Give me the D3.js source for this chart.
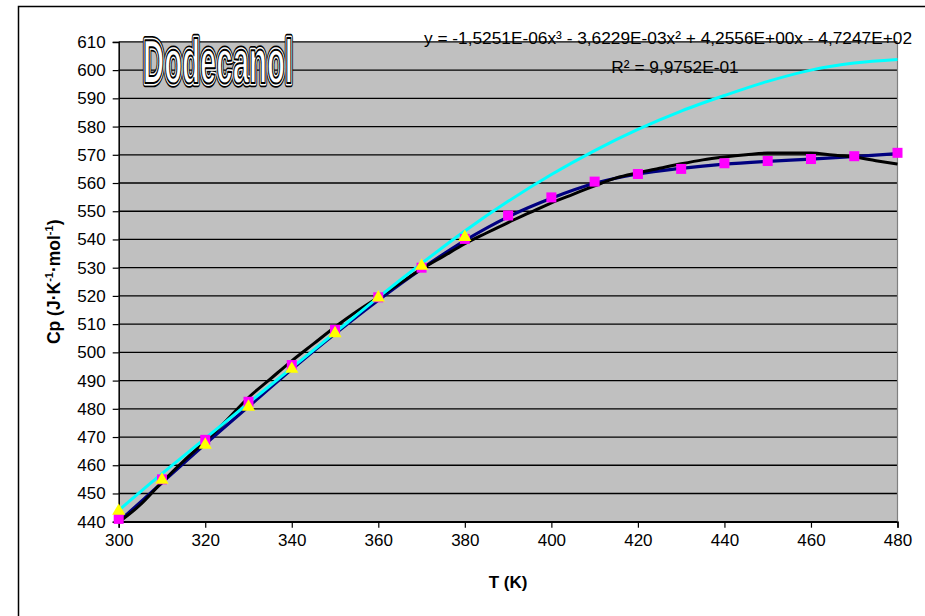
<!DOCTYPE html>
<html>
<head>
<meta charset="utf-8">
<script src="https://cdn.jsdelivr.net/npm/d3@7"></script>
<style>
  html, body { margin: 0; padding: 0; background: #fff; }
  svg { display: block; font-family: "Liberation Sans", Arial, sans-serif; }
  .title { text-rendering: geometricPrecision; -webkit-font-smoothing: antialiased; }
</style>
</head>
<body>
<svg id="chart" width="925" height="616"></svg>
<script>
// Temperature grid (K)
const tempsFull = [300, 310, 320, 330, 340, 350, 360, 370, 380, 390, 400, 410, 420, 430, 440, 450, 460, 470, 480];
const tempsShort = [300, 310, 320, 330, 340, 350, 360, 370, 380];

// Cp values, J·K-1·mol-1
const cpSquares = [441, 455, 469, 482.5, 495.5, 508, 519.5, 530, 540.2, 548.5, 554.9, 560.5, 563.2, 565, 567, 567.8, 568.5, 569.5, 570.7];
const cpNavy = [440, 453.8, 467.5, 480.8, 494, 506.6, 518.5, 529.6, 539.6, 548, 554.6, 559.9, 563.2, 565.2, 566.7, 567.7, 568.5, 569.4, 570.4];
const cpTriangles = [443.8, 454.8, 467.2, 480.7, 494.1, 506.7, 519.4, 530.6, 540.8];
const cpCyan = [444, 457, 469.5, 482, 494.5, 507, 519.5, 531.5, 543, 553.5, 563, 571.5, 579, 585.5, 591, 596, 600, 602.5, 603.8];

// Measured curve, 5 K steps
const tempsMeasured = [300, 305, 310, 315, 320, 325, 330, 335, 340, 345, 350, 355, 360, 365, 370, 375, 380, 385, 390, 395, 400, 405, 410, 415, 420, 425, 430, 435, 440, 445, 450, 455, 460, 465, 470, 475, 480];
const cpMeasured = [439.8, 446, 454, 461.5, 468.5, 476, 484, 490.5, 497, 503, 509, 514.5, 519.5, 524.5, 529.5, 534, 538.5, 542.3, 546, 549.5, 553, 556, 559, 561.8, 563.6, 565.2, 566.8, 568.2, 569.2, 570, 570.6, 570.6, 570.6, 569.9, 569.2, 567.9, 566.7];

// Axis ticks
const xTicks = [300, 320, 340, 360, 380, 400, 420, 440, 460, 480];
const yTicks = [440, 450, 460, 470, 480, 490, 500, 510, 520, 530, 540, 550, 560, 570, 580, 590, 600, 610];

const svg = d3.select("#chart");
const plotLeft = 118.7, plotRight = 897.5, plotTop = 41.9, plotBottom = 521.7;

const x = d3.scaleLinear().domain([300, 480]).range([plotLeft, plotRight]);
const y = d3.scaleLinear().domain([440, 610]).range([plotBottom, plotTop]);

// Outer chart frame
svg.append("rect")
  .attr("x", 18.5).attr("y", 6.5).attr("width", 1000).attr("height", 700)
  .attr("fill", "#fff").attr("stroke", "#000").attr("stroke-width", 1.5);

// Plot area
svg.append("rect")
  .attr("x", plotLeft).attr("y", plotTop).attr("width", plotRight - plotLeft).attr("height", plotBottom - plotTop)
  .attr("fill", "#c0c0c0");

// Horizontal gridlines
svg.append("g").selectAll("line").data(yTicks).join("line")
  .attr("x1", plotLeft).attr("x2", plotRight)
  .attr("y1", d => y(d)).attr("y2", d => y(d))
  .attr("stroke", "#000").attr("stroke-width", 1.3);

// Right border of plot
svg.append("line")
  .attr("x1", plotRight).attr("x2", plotRight).attr("y1", plotTop).attr("y2", plotBottom)
  .attr("stroke", "#808080").attr("stroke-width", 1.2);

// Axes
const xAxis = d3.axisBottom(x).tickValues(xTicks).tickSize(6).tickPadding(6).tickFormat(d3.format("d"));
const yAxis = d3.axisLeft(y).tickValues(yTicks).tickSize(6).tickPadding(7).tickFormat(d3.format("d"));

const gx = svg.append("g").attr("transform", `translate(0,${plotBottom})`).call(xAxis);
const gy = svg.append("g").attr("transform", `translate(${plotLeft},0)`).call(yAxis);
[gx, gy].forEach(g => {
  g.select(".domain").attr("stroke", "#000").attr("stroke-width", 1.5);
  g.selectAll(".tick line").attr("stroke", "#000").attr("stroke-width", 1.2);
  g.selectAll(".tick text").attr("fill", "#000")
    .style("font-family", "'Liberation Sans', Arial, sans-serif").style("font-size", "17px");
});

// Clip to plot area
svg.append("defs").append("clipPath").attr("id", "plotclip")
  .append("rect").attr("x", plotLeft).attr("y", plotTop - 2).attr("width", plotRight - plotLeft + 8).attr("height", plotBottom - plotTop + 6);

const plot = svg.append("g").attr("clip-path", "url(#plotclip)");

const smooth = d3.line().x(d => x(d[0])).y(d => y(d[1])).curve(d3.curveCatmullRom.alpha(0.5));
const straight = d3.line().x(d => x(d[0])).y(d => y(d[1])).curve(d3.curveMonotoneX);

// Navy fitted curve
plot.append("path")
  .datum(tempsFull.map((t, i) => [t, cpNavy[i]]))
  .attr("d", smooth).attr("fill", "none").attr("stroke", "#000080").attr("stroke-width", 3.2);

// Magenta squares
svg.append("g").selectAll("rect").data(tempsFull.map((t, i) => [t, cpSquares[i]])).join("rect")
  .attr("x", d => x(d[0]) - 5).attr("y", d => y(d[1]) - 5)
  .attr("width", 10).attr("height", 10).attr("fill", "#ff00ff");

// Measured curve
plot.append("path")
  .datum(tempsMeasured.map((t, i) => [t, cpMeasured[i]]))
  .attr("d", straight).attr("fill", "none").attr("stroke", "#000").attr("stroke-width", 3)
  .attr("stroke-linejoin", "round");

// Cyan trend
plot.append("path")
  .datum(tempsFull.map((t, i) => [t, cpCyan[i]]))
  .attr("d", smooth).attr("fill", "none").attr("stroke", "#00ffff").attr("stroke-width", 3);

// Yellow triangles
const tri = d3.symbol().type(d3.symbolTriangle).size(75);
svg.append("g").selectAll("path").data(tempsShort.map((t, i) => [t, cpTriangles[i]])).join("path")
  .attr("transform", d => `translate(${x(d[0])},${y(d[1])})`)
  .attr("d", tri).attr("fill", "#ffff00");

// Trendline equation and R²
svg.append("text").attr("x", 424).attr("y", 44)
  .style("font-size", "17.3px").attr("fill", "#000")
  .text("y = -1,5251E-06x³ - 3,6229E-03x² + 4,2556E+00x - 4,7247E+02");

svg.append("text").attr("x", 675).attr("y", 73).attr("text-anchor", "middle")
  .style("font-size", "17.3px").attr("fill", "#000")
  .text("R² = 9,9752E-01");

// Title: layered outline lettering
const titleAttrs = sel => sel.attr("class", "title").attr("x", 143).attr("y", 83)
  .attr("textLength", 150).attr("lengthAdjust", "spacingAndGlyphs")
  .style("font-family", "'Liberation Sans Narrow', 'Liberation Sans', Arial, sans-serif")
  .style("font-weight", "bold").style("font-size", "62px");
svg.append("text").call(titleAttrs).text("Dodecanol")
  .attr("fill", "#000").attr("stroke", "#000").attr("stroke-width", 8.5).attr("stroke-linejoin", "round");
svg.append("text").call(titleAttrs).text("Dodecanol")
  .attr("fill", "#fff").attr("stroke", "#fff").attr("stroke-width", 5).attr("stroke-linejoin", "round");
svg.append("text").call(titleAttrs).text("Dodecanol")
  .attr("fill", "#fff").attr("stroke", "#000").attr("stroke-width", 2).attr("stroke-linejoin", "round");

// Axis titles
svg.append("text").attr("x", (plotLeft + plotRight) / 2).attr("y", 588).attr("text-anchor", "middle")
  .style("font-size", "17px").style("font-weight", "bold").text("T (K)");

const yt = svg.append("text").attr("transform", `translate(60,${(plotTop + plotBottom) / 2}) rotate(-90)`)
  .attr("text-anchor", "middle").style("font-size", "17.5px").style("font-weight", "bold");
yt.append("tspan").text("Cp (J·K");
yt.append("tspan").text("-1").attr("dy", -7).style("font-size", "11px");
yt.append("tspan").text("·mol").attr("dy", 7);
yt.append("tspan").text("-1").attr("dy", -7).style("font-size", "11px");
yt.append("tspan").text(")").attr("dy", 7);
</script>
</body>
</html>
